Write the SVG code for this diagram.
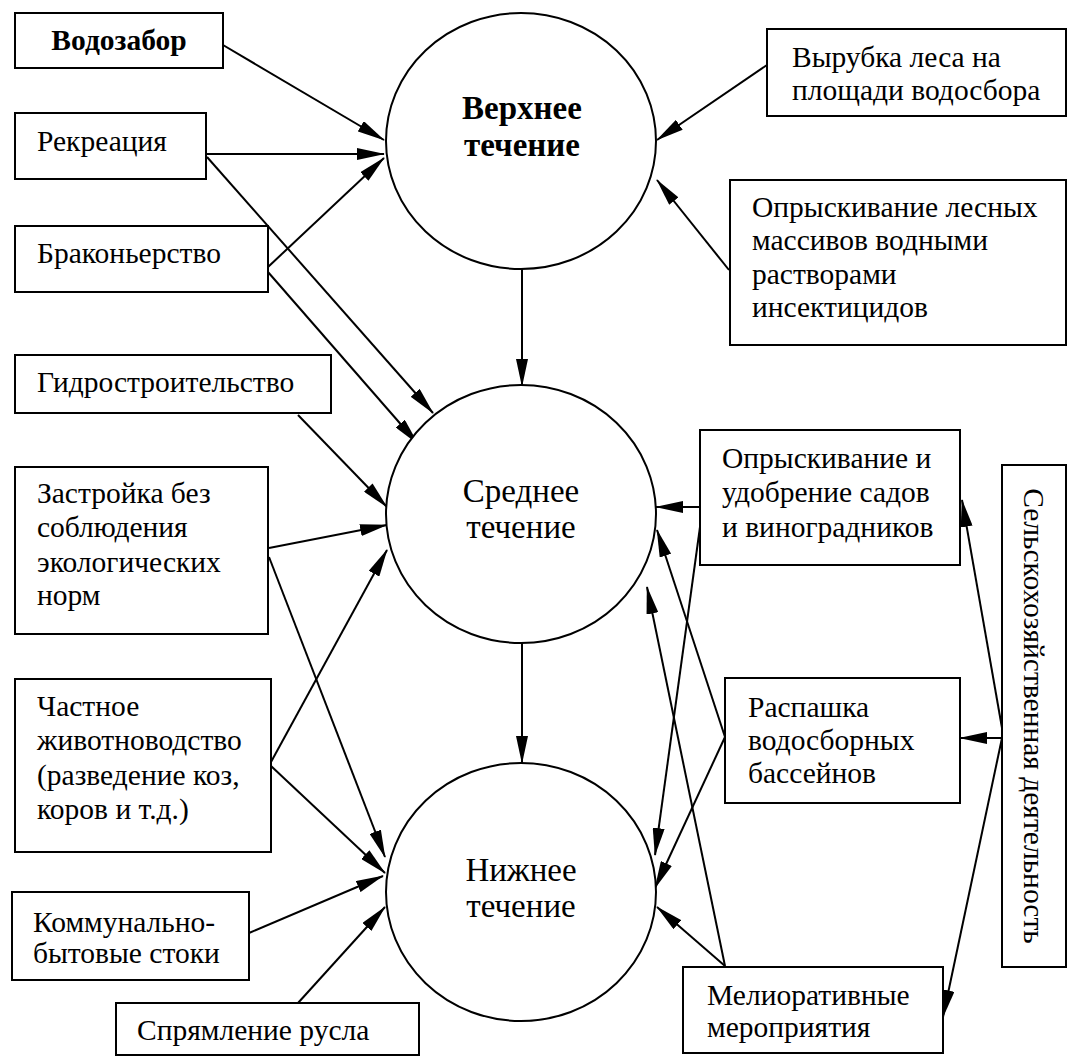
<svg xmlns="http://www.w3.org/2000/svg" width="1067" height="1057" viewBox="0 0 1067 1057">
<style>
.box{fill:#fff;stroke:#000;stroke-width:2}
.node{fill:#fff;stroke:#000;stroke-width:2}
.t{font-family:"Liberation Serif","Times New Roman",serif;font-size:29.5px;fill:#000}
.n{font-size:33px}
.b{font-weight:bold}
.c{text-anchor:middle}
.con line{stroke:#000;stroke-width:2;marker-end:url(#ah)}
</style>
<defs>
<marker id="ah" viewBox="0 0 28 12" markerWidth="28" markerHeight="12" refX="27" refY="6" orient="auto" markerUnits="userSpaceOnUse">
<path d="M0,0 L28,6 L0,12 z" fill="#000"/>
</marker>
</defs>
<rect width="1067" height="1057" fill="#fff"/>

<g id="connectors" class="con">
<line x1="522" y1="269" x2="522" y2="386"/>
<line x1="522" y1="643" x2="522" y2="763"/>
<line x1="223" y1="45" x2="384" y2="140"/>
<line x1="206" y1="154" x2="384" y2="154"/>
<line x1="268" y1="267" x2="384" y2="158"/>
<line x1="207" y1="157" x2="433" y2="413"/>
<line x1="268" y1="272" x2="418" y2="444"/>
<line x1="298" y1="415" x2="387" y2="507"/>
<line x1="269" y1="548" x2="387" y2="525"/>
<line x1="269" y1="557" x2="385" y2="857"/>
<line x1="271" y1="762" x2="387" y2="550"/>
<line x1="271" y1="766" x2="385" y2="873"/>
<line x1="249" y1="933" x2="383" y2="876"/>
<line x1="298" y1="1003" x2="385" y2="907"/>
<line x1="767" y1="65" x2="657" y2="140"/>
<line x1="729" y1="270" x2="657" y2="180"/>
<line x1="700" y1="507" x2="656" y2="507"/>
<line x1="700" y1="527" x2="655" y2="855"/>
<line x1="725" y1="737" x2="657" y2="530"/>
<line x1="725" y1="737" x2="655" y2="888"/>
<line x1="725" y1="966" x2="647" y2="587"/>
<line x1="725" y1="966" x2="657" y2="907"/>
<line x1="1002" y1="728" x2="962" y2="500"/>
<line x1="1002" y1="738" x2="960" y2="738"/>
<line x1="1002" y1="738" x2="943" y2="1017"/>
</g>

<g id="upper">
<ellipse class="node" cx="521" cy="141" rx="135" ry="128"/>
<text class="t n b c" x="522" y="119">Верхнее</text>
<text class="t n b c" x="522" y="156">течение</text>
</g>
<g id="middle">
<ellipse class="node" cx="521" cy="514" rx="135" ry="129"/>
<text class="t n c" x="521" y="502">Среднее</text>
<text class="t n c" x="521" y="538">течение</text>
</g>
<g id="lower">
<ellipse class="node" cx="521" cy="892" rx="135" ry="129"/>
<text class="t n c" x="521" y="881">Нижнее</text>
<text class="t n c" x="521" y="917">течение</text>
</g>

<g id="vodozabor">
<rect class="box" x="15" y="13" width="208" height="55"/>
<text class="t b c" x="119" y="50">Водозабор</text>
</g>
<g id="rekreatsiya">
<rect class="box" x="15" y="113" width="191" height="66"/>
<text class="t" x="37" y="151">Рекреация</text>
</g>
<g id="brakonerstvo">
<rect class="box" x="15" y="226" width="253" height="66"/>
<text class="t" x="37" y="263">Браконьерство</text>
</g>
<g id="gidro">
<rect class="box" x="15" y="355" width="316" height="58"/>
<text class="t" x="37" y="392">Гидростроительство</text>
</g>
<g id="zastroyka">
<rect class="box" x="15" y="467" width="253" height="167"/>
<text class="t" x="37" y="503">Застройка без</text>
<text class="t" x="37" y="537">соблюдения</text>
<text class="t" x="37" y="572">экологических</text>
<text class="t" x="37" y="605">норм</text>
</g>
<g id="chastnoe">
<rect class="box" x="15" y="679" width="256" height="173"/>
<text class="t" x="37" y="716">Частное</text>
<text class="t" x="37" y="750">животноводство</text>
<text class="t" x="37" y="785">(разведение коз,</text>
<text class="t" x="37" y="819">коров и т.д.)</text>
</g>
<g id="kommunal">
<rect class="box" x="12" y="892" width="237" height="88"/>
<text class="t" x="33" y="932">Коммунально-</text>
<text class="t" x="33" y="963">бытовые стоки</text>
</g>
<g id="spryamlenie">
<rect class="box" x="116" y="1003" width="303" height="52"/>
<text class="t" x="137" y="1040">Спрямление русла</text>
</g>
<g id="vyrubka">
<rect class="box" x="767" y="29" width="299" height="87"/>
<text class="t" x="792" y="67">Вырубка леса на</text>
<text class="t" x="792" y="100">площади водосбора</text>
</g>
<g id="opryskivanie-les">
<rect class="box" x="730" y="180" width="336" height="165"/>
<text class="t" x="752" y="217">Опрыскивание лесных</text>
<text class="t" x="752" y="250">массивов водными</text>
<text class="t" x="752" y="284">растворами</text>
<text class="t" x="752" y="317">инсектицидов</text>
</g>
<g id="opryskivanie-sad">
<rect class="box" x="700" y="430" width="260" height="135"/>
<text class="t" x="722" y="468">Опрыскивание и</text>
<text class="t" x="722" y="502">удобрение садов</text>
<text class="t" x="722" y="537">и виноградников</text>
</g>
<g id="raspashka">
<rect class="box" x="725" y="678" width="235" height="125"/>
<text class="t" x="748" y="717">Распашка</text>
<text class="t" x="748" y="750">водосборных</text>
<text class="t" x="748" y="783">бассейнов</text>
</g>
<g id="melior">
<rect class="box" x="683" y="967" width="260" height="86"/>
<text class="t" x="707" y="1005">Мелиоративные</text>
<text class="t" x="707" y="1037">мероприятия</text>
</g>
<g id="selkhoz">
<rect class="box" x="1002" y="465" width="64" height="502"/>
<text class="t c" transform="translate(1024,716) rotate(90)">Сельскохозяйственная деятельность</text>
</g>
</svg>
